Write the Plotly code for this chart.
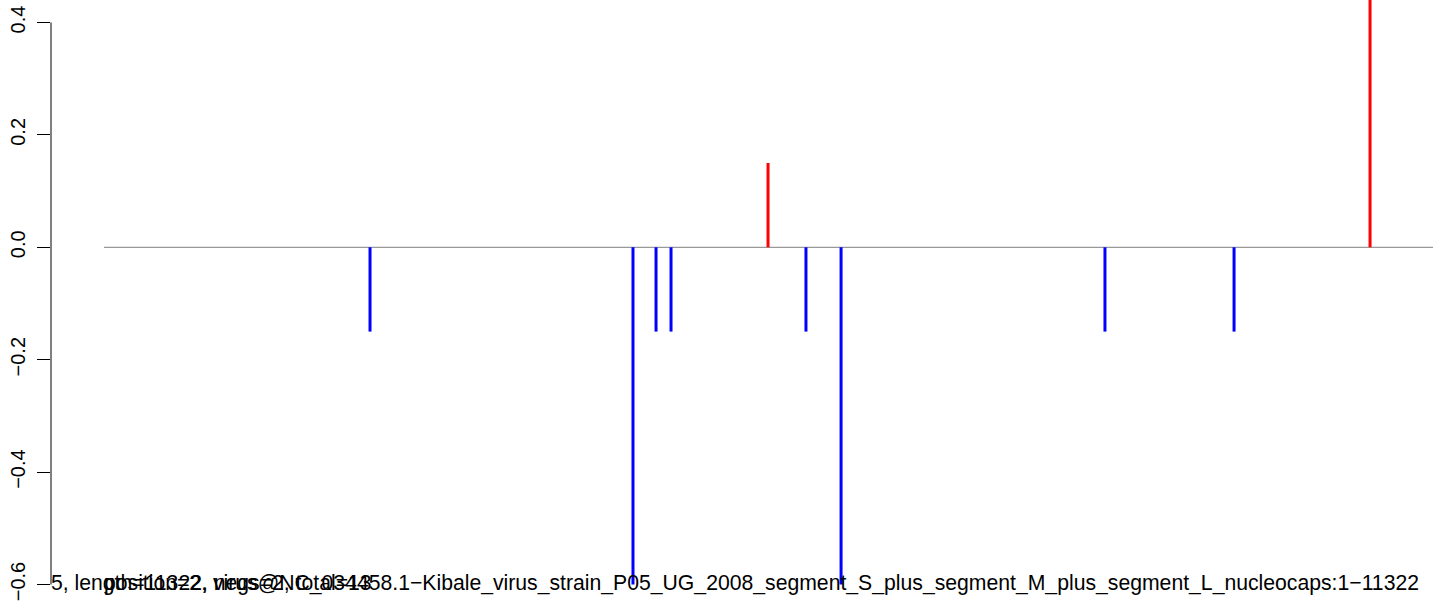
import plotly.graph_objects as go

# sequence positions of hits and their scores
seq_len = 11322
pos_hits = [2273, 4520, 4717, 4845, 5674, 5998, 6298, 8553, 9656, 10818]
scores = [-0.15, -0.6, -0.15, -0.15, 0.15, -0.15, -0.6, -0.15, -0.15, 0.6]
y_ticks = [-0.6, -0.4, -0.2, 0.0, 0.2, 0.4]

label_a = "position=5, length=11322, negs=2, total=13"
label_b = ("position=2, virus@NC_034458.1\u2212Kibale_virus_strain_P05_UG_2008_segment_S_plus_"
           "segment_M_plus_segment_L_nucleocaps:1\u221211322")

W, H = 1433, 607
L = 51
x_lo, x_hi = -453, 11356
px_per = (W - L) / (x_hi - x_lo)
txt_size = 21.2


def px_to_x(px):
    return x_lo + (px - L) / px_per


fig = go.Figure()

# baseline
fig.add_trace(go.Scatter(x=[0, seq_len + 400], y=[0, 0], mode="lines",
                         line=dict(color="#808080", width=1), hoverinfo="skip"))

# one segment per hit
for p, s in zip(pos_hits, scores):
    fig.add_trace(go.Scatter(x=[p, p], y=[0, s], mode="lines",
                             line=dict(color="red" if s > 0 else "blue", width=3),
                             hoverinfo="skip"))

font = dict(family="Liberation Sans, Arial, sans-serif", size=txt_size, color="black")
# "position=" is ~4.03 em wide, so the visible part starts right at the plot edge
fig.add_trace(go.Scatter(x=[px_to_x(L - 4.03 * txt_size)], y=[-0.6], mode="text",
                         text=[label_a], textposition="middle right",
                         textfont=font, cliponaxis=True, hoverinfo="skip"))
fig.add_trace(go.Scatter(x=[px_to_x(1419)], y=[-0.6], mode="text", text=[label_b],
                         textposition="middle left", textfont=font, cliponaxis=True,
                         hoverinfo="skip"))

# R-style axis line only between first and last tick
fig.add_shape(type="line", xref="paper", yref="y", x0=0, x1=0, y0=-0.6, y1=0.4,
              line=dict(color="black", width=1))

fig.update_layout(
    width=W, height=H,
    margin=dict(l=L, r=0, t=0, b=0),
    plot_bgcolor="white", paper_bgcolor="white",
    showlegend=False,
    font=font,
    xaxis=dict(range=[x_lo, x_hi], visible=False),
    yaxis=dict(range=[-0.64, 0.44], tickvals=y_ticks,
               ticktext=[f"{v:.1f}".replace("-", "\u2212") for v in y_ticks],
               tickangle=-90, ticks="outside", ticklen=13, tickcolor="black",
               ticklabelstandoff=4,
               showgrid=False, zeroline=False, showline=False,
               tickfont=dict(size=20)),
)

fig.write_html("out.html", config={"displayModeBar": False},
               post_script="document.body.style.margin='0';document.body.style.overflow='hidden';")
